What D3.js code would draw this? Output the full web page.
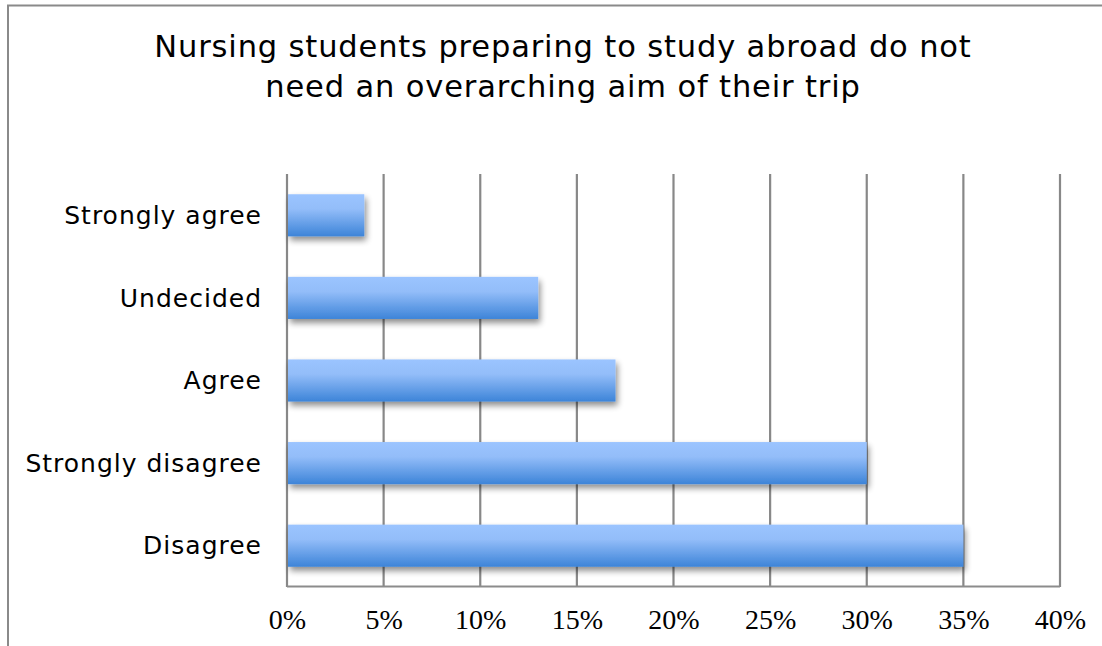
<!DOCTYPE html>
<html>
<head>
<meta charset="utf-8">
<script src="https://cdn.jsdelivr.net/npm/d3@7"></script>
<style>
  html, body { margin: 0; padding: 0; background: #fff; }
  svg { display: block; }
</style>
</head>
<body>
<svg id="chart" width="1102" height="646"></svg>
<script>
// Survey responses, share of students (%)
const categories = ["Strongly agree", "Undecided", "Agree", "Strongly disagree", "Disagree"];
const values = [4, 13, 17, 30, 35];
const tickValues = [0, 5, 10, 15, 20, 25, 30, 35, 40];
const titleLines = [
  "Nursing students preparing to study abroad do not",
  "need an overarching aim of their trip"
];

const svg = d3.select("#chart");
const W = 1102, H = 646;
const plot = { left: 287, right: 1060, top: 174, bottom: 587 };

// Gradient fill and soft drop shadow for the bars
const defs = svg.append("defs");
const grad = defs.append("linearGradient")
  .attr("id", "barFill").attr("x1", 0).attr("y1", 0).attr("x2", 0).attr("y2", 1);
grad.append("stop").attr("offset", "0%").attr("stop-color", "#9bc4ff");
grad.append("stop").attr("offset", "35%").attr("stop-color", "#93bdf9");
grad.append("stop").attr("offset", "100%").attr("stop-color", "#3d84d8");

const shadow = defs.append("filter").attr("id", "barShadow")
  .attr("x", "-10%").attr("y", "-30%").attr("width", "130%").attr("height", "180%");
shadow.append("feGaussianBlur").attr("in", "SourceAlpha").attr("stdDeviation", 3);
shadow.append("feOffset").attr("dx", 2).attr("dy", 4).attr("result", "blur");
shadow.append("feComponentTransfer").append("feFuncA").attr("type", "linear").attr("slope", 0.45);
const merge = shadow.append("feMerge");
merge.append("feMergeNode");
merge.append("feMergeNode").attr("in", "SourceGraphic");

// Outer frame
svg.append("rect")
  .attr("x", 8).attr("y", 5.5).attr("width", W + 20).attr("height", H + 20)
  .attr("fill", "none").attr("stroke", "#8a8a8a").attr("stroke-width", 2);

// Title
svg.append("text")
  .attr("text-anchor", "middle")
  .attr("font-family", "'DejaVu Sans', Verdana, sans-serif")
  .attr("font-size", 30.5)
  .attr("letter-spacing", 0.85)
  .attr("fill", "#000")
  .selectAll("tspan").data(titleLines).join("tspan")
  .attr("x", 563).attr("y", (d, i) => 57 + i * 40)
  .text(d => d);

const x = d3.scaleLinear().domain([0, 40]).range([plot.left, plot.right]);
const y = d3.scaleBand().domain(categories).range([plot.top, plot.bottom]).paddingInner(0.49).paddingOuter(0.245);

// Vertical gridlines
svg.append("g").selectAll("line").data(tickValues).join("line")
  .attr("x1", d => x(d)).attr("x2", d => x(d))
  .attr("y1", plot.top).attr("y2", plot.bottom)
  .attr("stroke", "#888").attr("stroke-width", 2.2);

// Bottom axis line
svg.append("line")
  .attr("x1", plot.left).attr("x2", plot.right)
  .attr("y1", plot.bottom - 0.5).attr("y2", plot.bottom - 0.5)
  .attr("stroke", "#8c8c8c").attr("stroke-width", 2);

// Bars
svg.append("g").selectAll("rect").data(categories).join("rect")
  .attr("x", x(0) + 1)
  .attr("y", d => y(d))
  .attr("width", (d, i) => x(values[i]) - x(0) - 1)
  .attr("height", y.bandwidth())
  .attr("fill", "url(#barFill)")
  .attr("filter", "url(#barShadow)");

// Category labels
svg.append("g").selectAll("text").data(categories).join("text")
  .attr("x", 262)
  .attr("y", d => y(d) + y.bandwidth() / 2)
  .attr("dy", "0.35em")
  .attr("text-anchor", "end")
  .attr("font-family", "'DejaVu Sans', Verdana, sans-serif")
  .attr("font-size", 25)
  .attr("letter-spacing", 1)
  .attr("fill", "#000")
  .text(d => d);

// Percentage tick labels
const xAxis = d3.axisBottom(x).tickValues(tickValues).tickFormat(d => d + "%").tickSize(0).tickPadding(0);
const axisG = svg.append("g").attr("transform", `translate(0, ${plot.bottom})`).call(xAxis);
axisG.select(".domain").remove();
axisG.selectAll("text")
  .attr("y", 42).attr("dy", 0)
  .attr("font-family", "'Liberation Serif', 'DejaVu Serif', serif")
  .attr("font-size", 28)
  .attr("fill", "#000");
</script>
</body>
</html>
